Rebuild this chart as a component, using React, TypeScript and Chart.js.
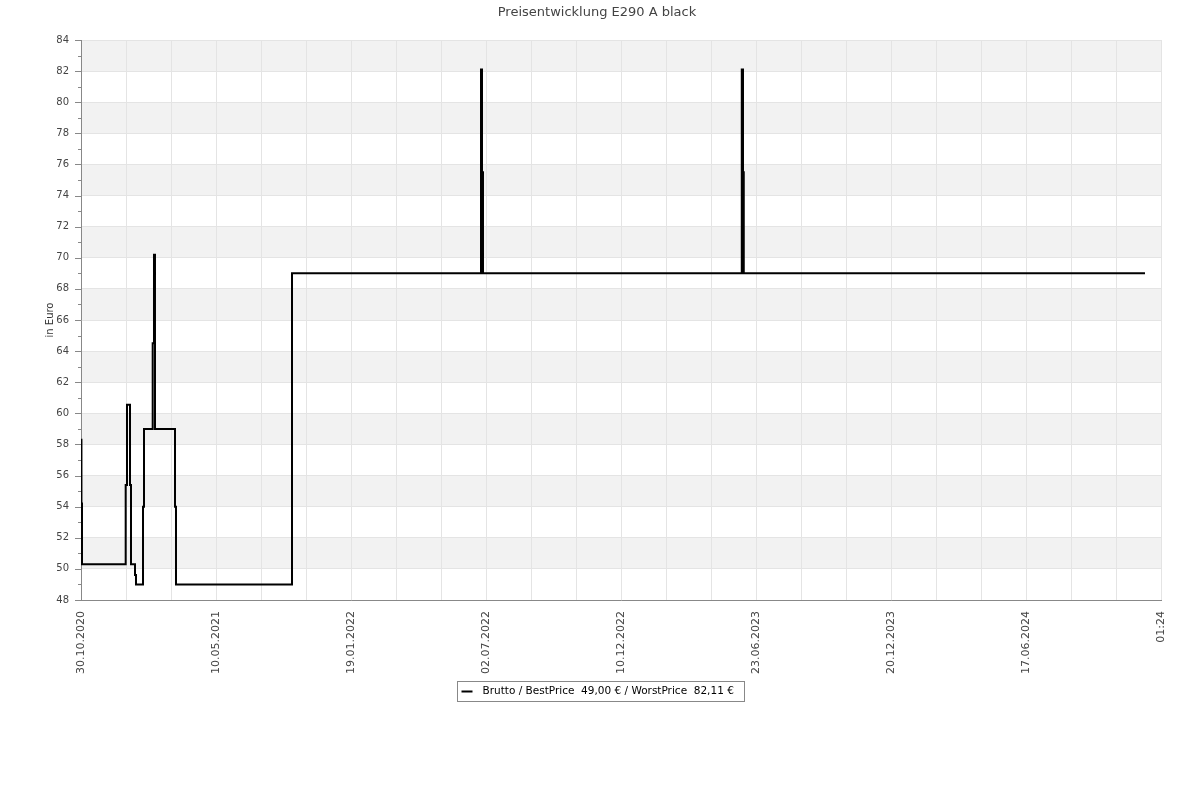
import React, { useEffect, useRef } from "react";
import { Chart, registerables } from "chart.js";

Chart.register(...registerables);

const chartTitle = "Preisentwicklung E290 A black";
const yAxisTitle = "in Euro";
const seriesName = "Brutto";
// x position in tick steps (0..24), labelled every 3rd step
const tickLabels = [
  "30.10.2020",
  "10.05.2021",
  "19.01.2022",
  "02.07.2022",
  "10.12.2022",
  "23.06.2023",
  "20.12.2023",
  "17.06.2024",
  "01:24",
];
const changePositions = [
  0, 0.01, 0.022, 0.993, 1.022, 1.089, 1.111, 1.2, 1.222, 1.378, 1.4, 1.593,
  1.622, 1.644, 2.089, 2.111, 4.689, 8.889, 8.911, 8.933, 14.684, 14.7, 14.711,
  14.728, 23.644,
];
const prices = [
  58.3, 54.2, 50.3, 55.4, 60.55, 55.4, 50.3, 49.6, 49.0, 54.0, 59.0, 64.5, 70.2,
  59.0, 54.0, 49.0, 69.0, 82.11, 75.5, 69.0, 82.11, 82.11, 75.5, 69.0, 69.0,
];

const FONT = "DejaVu Sans";

function fmtEuro(v: number) {
  return v.toFixed(2).replace(".", ",") + " €";
}

export default function App() {
  const ref = useRef<HTMLCanvasElement | null>(null);
  useEffect(() => {
    if (!ref.current) return;
    const best = Math.min(...prices);
    const worst = Math.max(...prices);
    const legendText = `${seriesName} / BestPrice  ${fmtEuro(best)} / WorstPrice  ${fmtEuro(worst)}`;

    const decor = {
      id: "decor",
      beforeDraw(chart: any) {
        const { ctx, chartArea, scales } = chart;
        const y = scales.y;
        ctx.save();
        ctx.fillStyle = "#ffffff";
        ctx.fillRect(0, 0, chart.width, chart.height);
        ctx.fillStyle = "#f2f2f2";
        for (let v = 48; v < 84; v += 2) {
          if (((v - 48) / 2) % 2 === 1) {
            const top = y.getPixelForValue(v + 2);
            const bot = y.getPixelForValue(v);
            ctx.fillRect(chartArea.left, top, chartArea.right - chartArea.left, bot - top);
          }
        }
        ctx.restore();
      },
      afterDraw(chart: any) {
        const { ctx, chartArea, scales } = chart;
        const y = scales.y;
        ctx.save();
        // y tick marks
        ctx.strokeStyle = "#888888";
        ctx.lineWidth = 1;
        for (let v = 48; v <= 84; v += 1) {
          const py = Math.round(y.getPixelForValue(v)) + 0.5;
          const len = v % 2 === 0 ? 6 : 3;
          ctx.beginPath();
          ctx.moveTo(chartArea.left - len, py);
          ctx.lineTo(chartArea.left, py);
          ctx.stroke();
        }
        // title
        ctx.fillStyle = "#444444";
        ctx.font = `13px "${FONT}"`;
        ctx.textAlign = "center";
        ctx.textBaseline = "middle";
        ctx.fillText(chartTitle, chart.width / 2 - 3, 13);
        // y axis title
        ctx.save();
        ctx.translate(50, (chartArea.top + chartArea.bottom) / 2);
        ctx.rotate(-Math.PI / 2);
        ctx.font = `10px "${FONT}"`;
        ctx.fillStyle = "#333333";
        ctx.fillText(yAxisTitle, 0, 0);
        ctx.restore();
        // legend
        ctx.font = `10.5px "${FONT}"`;
        const tw = ctx.measureText(legendText).width;
        const boxW = Math.round(tw + 36);
        const boxX = Math.round(600 - boxW / 2) + 0.5;
        const boxY = 681.5;
        ctx.strokeStyle = "#888888";
        ctx.lineWidth = 1;
        ctx.strokeRect(boxX, boxY, boxW, 20);
        ctx.strokeStyle = "#000000";
        ctx.lineWidth = 2;
        ctx.beginPath();
        ctx.moveTo(boxX + 4, 691.5);
        ctx.lineTo(boxX + 15, 691.5);
        ctx.stroke();
        ctx.fillStyle = "#000000";
        ctx.textAlign = "left";
        ctx.textBaseline = "middle";
        ctx.fillText(legendText, boxX + 25, 691.5);
        ctx.restore();
      },
    };

    const chart = new Chart(ref.current, {
      type: "line",
      data: {
        datasets: [
          {
            label: seriesName,
            data: changePositions.map((x, i) => ({ x, y: prices[i] })),
            borderColor: "#000000",
            borderWidth: 2,
            pointRadius: 0,
            stepped: "before",
            fill: false,
          },
        ],
      },
      options: {
        responsive: false,
        animation: false,
        devicePixelRatio: 1,
        layout: { padding: { left: 0, top: 40, right: 39, bottom: 0 } },
        plugins: {
          legend: { display: false },
          title: { display: false },
          tooltip: { enabled: false },
        },
        scales: {
          x: {
            type: "linear",
            min: 0,
            max: 24,
            afterFit(scale: any) {
              scale.height = 200;
            },
            afterBuildTicks(scale: any) {
              const t = [];
              for (let i = 0; i <= 24; i++) t.push({ value: i });
              scale.ticks = t;
            },
            ticks: {
              autoSkip: false,
              maxRotation: 90,
              minRotation: 90,
              padding: 11,
              color: "#444444",
              font: { family: FONT, size: 11 },
              callback: (v: any) => (Number(v) % 3 === 0 ? tickLabels[Number(v) / 3] : ""),
            },
            grid: { color: "#e4e4e4", drawTicks: false },
            border: { color: "#888888" },
          },
          y: {
            min: 48,
            max: 84,
            afterFit(scale: any) {
              scale.width = 81;
            },
            afterBuildTicks(scale: any) {
              const t = [];
              for (let v = 48; v <= 84; v += 2) t.push({ value: v });
              scale.ticks = t;
            },
            ticks: {
              autoSkip: false,
              padding: 12,
              color: "#444444",
              font: { family: FONT, size: 10 },
            },
            grid: { color: "#e4e4e4", drawTicks: false },
            border: { color: "#888888" },
          },
        },
      },
      plugins: [decor],
    } as any);
    return () => chart.destroy();
  }, []);

  return (
    <div style={{ position: "fixed", left: 0, top: 0, width: 1200, height: 800, background: "#fff" }}>
      <canvas ref={ref} width={1200} height={800} style={{ width: 1200, height: 800 }} />
    </div>
  );
}
